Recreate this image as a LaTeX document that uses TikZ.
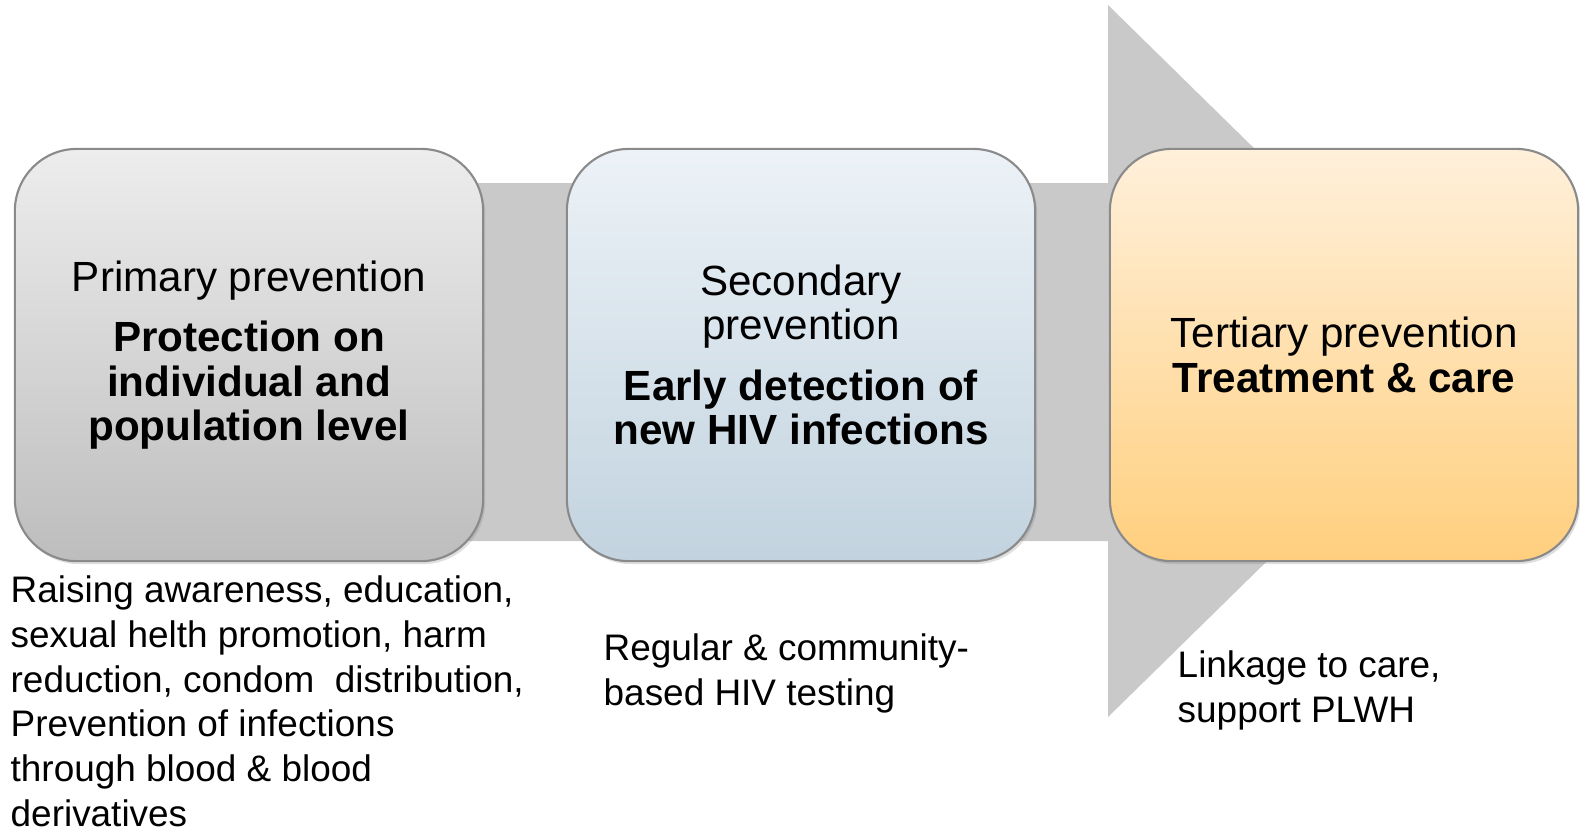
\documentclass[tikz,border=0pt]{standalone}
\usepackage{fontspec}
\setmainfont{Liberation Sans}
\usepackage{tikz}
\usetikzlibrary{shadows}
\definecolor{arrowgray}{HTML}{C9C9C9}
\definecolor{rimgray}{HTML}{8A8A8A}
\definecolor{primtop}{HTML}{EDEDED}
\definecolor{primbot}{HTML}{BDBDBD}
\definecolor{sectop}{HTML}{ECF2F7}
\definecolor{secbot}{HTML}{C2D3DF}
\definecolor{tertop}{HTML}{FFF0DB}
\definecolor{terbot}{HTML}{FFCF7E}
\tikzset{
    stage/.style={draw=rimgray, line width=0.6pt, rounded corners=0.62cm,
    minimum width=4.68cm, minimum height=4.12cm, align=center,
    font=\fontsize{12}{12.6}\selectfont, inner sep=0pt,
    drop shadow={opacity=0.25, shadow xshift=0.02cm, shadow yshift=-0.03cm}},
    remark/.style={font=\fontsize{10.5}{12.7}\selectfont, anchor=base west,
    align=left, inner sep=0pt},
}

\begin{document}
\begin{tikzpicture}[x=0.01cm, y=-0.01cm]
            \useasboundingbox (0,0) rectangle (1580,829);
            % --- big arrow behind the stages ---
            \fill[arrowgray] (250,183) -- (1108,183) -- (1108,5) -- (1471,361)
                -- (1108,717) -- (1108,541) -- (250,541) -- cycle;
            % --- stages ---
            \node[stage, top color=primtop, bottom color=primbot] (prim) at (249,355)
                {Primary prevention\\[0.16cm]\textbf{Protection on}\\\textbf{individual and}\\\textbf{population level}};
            \node[stage, top color=sectop, bottom color=secbot] (sec) at (801,355)
                {Secondary\\prevention\\[0.16cm]\textbf{Early detection of}\\\textbf{new HIV infections}};
            \node[stage, top color=tertop, bottom color=terbot] (ter) at (1344,355)
                {Tertiary prevention\\\textbf{Treatment \& care}};
            % --- measures below ---
            \node[remark] (primnote) at (10,826)
                {Raising awareness, education,\\sexual helth promotion, harm\\reduction, condom\ \ distribution,\\Prevention of infections\\through blood \& blood\\derivatives};
            \node[remark] (secnote) at (603,705)
                {Regular \& community-\\based HIV testing};
            \node[remark] (ternote) at (1177,722)
                {Linkage to care,\\support PLWH};
        \end{tikzpicture}
\end{document}
